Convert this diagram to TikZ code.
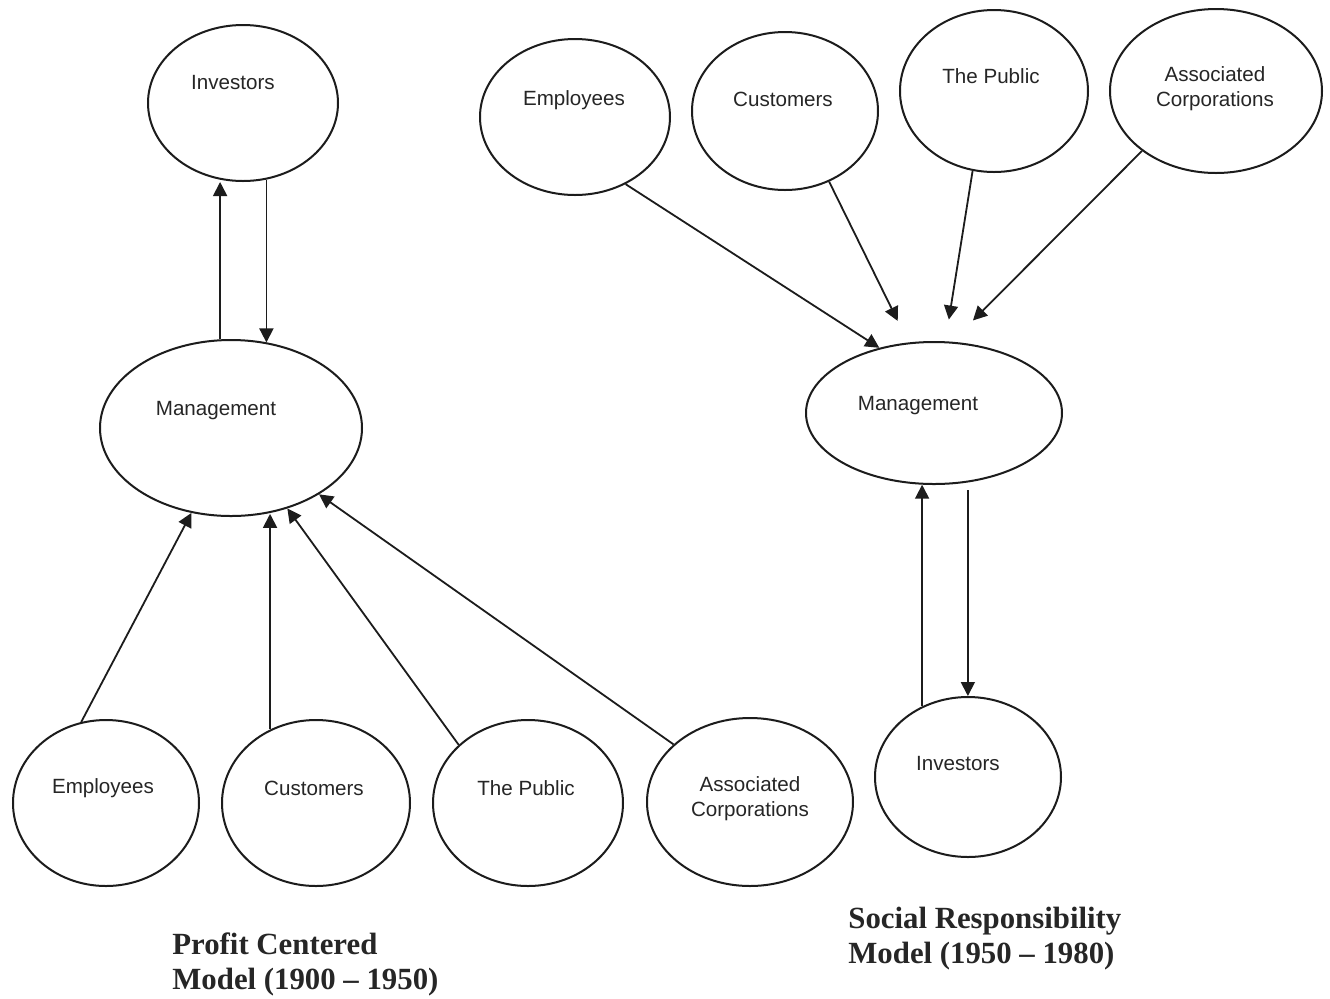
\documentclass[tikz,border=0pt]{standalone}
\usepackage{fontspec}
\setmainfont{Liberation Serif}
\setsansfont{Liberation Sans}
\usetikzlibrary{shapes.geometric,arrows.meta}
\definecolor{ink}{HTML}{1C1C1C}
\definecolor{txt}{HTML}{262626}
\tikzset{
  ell/.style={draw=ink, ellipse, inner sep=0pt, line width=1pt},
  lbl/.style={text=txt, font=\sffamily\fontsize{10.3}{12.5}\selectfont, align=center, inner sep=0pt},
  ttl/.style={text=txt, font=\rmfamily\bfseries\fontsize{15.4}{18}\selectfont, anchor=base west, inner sep=0pt},
  arr/.style={draw=ink, line width=0.9pt, -{Triangle[length=7pt,width=7pt]}},
}
\begin{document}
\begin{tikzpicture}[x=0.5pt,y=-0.5pt]
\useasboundingbox[fill=white] (0,0) rectangle (1330,998);
% ---------- left model ----------
\node[ell, minimum width=95pt, minimum height=78pt] (linv) at (243,103) {};
\node[ell, minimum width=131pt, minimum height=88pt] (lmgmt) at (231,428) {};
\node[ell, minimum width=93pt, minimum height=83pt] (lemp) at (106,803) {};
\node[ell, minimum width=94pt, minimum height=83pt] (lcust) at (316,803) {};
\node[ell, minimum width=95pt, minimum height=83pt] (lpub) at (528,803) {};
\node[ell, minimum width=103pt, minimum height=84pt] (lassoc) at (750,802) {};
\node[lbl] (linvt) at (233,83) {Investors};
\node[lbl] (lmgmtt) at (216,411) {Management};
\node[lbl] (lempt) at (103,788) {Employees};
\node[lbl] (lcustt) at (314,788) {Customers};
\node[lbl] (lpubt) at (526,788) {The Public};
\node[lbl] (lassoct) at (750,799) {Associated\\Corporations};
\draw[arr] (lmgmt.97.7) -- (lmgmt.97.7 |- linv.south);
\draw[arr] (linv.287.5) -- (linv.287.5 |- lmgmt.67.6);
\draw[arr] (lemp.107.4) -- (lmgmt.245.8);
\draw[arr] (lcust.122.3) -- (lcust.122.3 |- lmgmt.292.5);
\draw[arr] (lpub.140.3) -- (lmgmt.305);
\draw[arr] (lassoc.143.1) -- (lmgmt.323.9);
\node[ttl] (ltitle1) at (172,954) {Profit Centered};
\node[ttl] (ltitle2) at (172,989) {Model (1900 -- 1950)};
% ---------- right model ----------
\node[ell, minimum width=95pt, minimum height=78pt] (remp) at (575,117) {};
\node[ell, minimum width=93pt, minimum height=79pt] (rcust) at (785,111) {};
\node[ell, minimum width=94pt, minimum height=81pt] (rpub) at (994,91) {};
\node[ell, minimum width=106pt, minimum height=82pt] (rassoc) at (1216,91) {};
\node[ell, minimum width=128pt, minimum height=71pt] (rmgmt) at (934,413) {};
\node[ell, minimum width=93pt, minimum height=80pt] (rinv) at (968,777) {};
\node[lbl] (rempt) at (574,100) {Employees};
\node[lbl] (rcustt) at (783,99) {Customers};
\node[lbl] (rpubt) at (991,76) {The Public};
\node[lbl] (rassoct) at (1215,89) {Associated\\Corporations};
\node[lbl] (rmgmtt) at (918,406) {Management};
\node[lbl] (rinvt) at (958,764) {Investors};
\draw[arr] (remp.307.4) -- (rmgmt.130.9);
\draw[arr, shorten >=12pt] (rcust.302.5) -- (rmgmt.110.4);
\draw[arr, shorten >=11pt] (rpub.255.4) -- (rmgmt.81.1);
\draw[arr, shorten >=15pt] (rassoc.219.3) -- (rmgmt.76.5);
\draw[arr] (rinv.123.8) -- (rinv.123.8 |- rmgmt.261);
\draw[arr, shorten <=4pt] (rmgmt.296.8) -- (rmgmt.296.8 |- rinv.north);
\node[ttl] (rtitle1) at (848,928) {Social Responsibility};
\node[ttl] (rtitle2) at (848,963) {Model (1950 -- 1980)};
\end{tikzpicture}
\end{document}
